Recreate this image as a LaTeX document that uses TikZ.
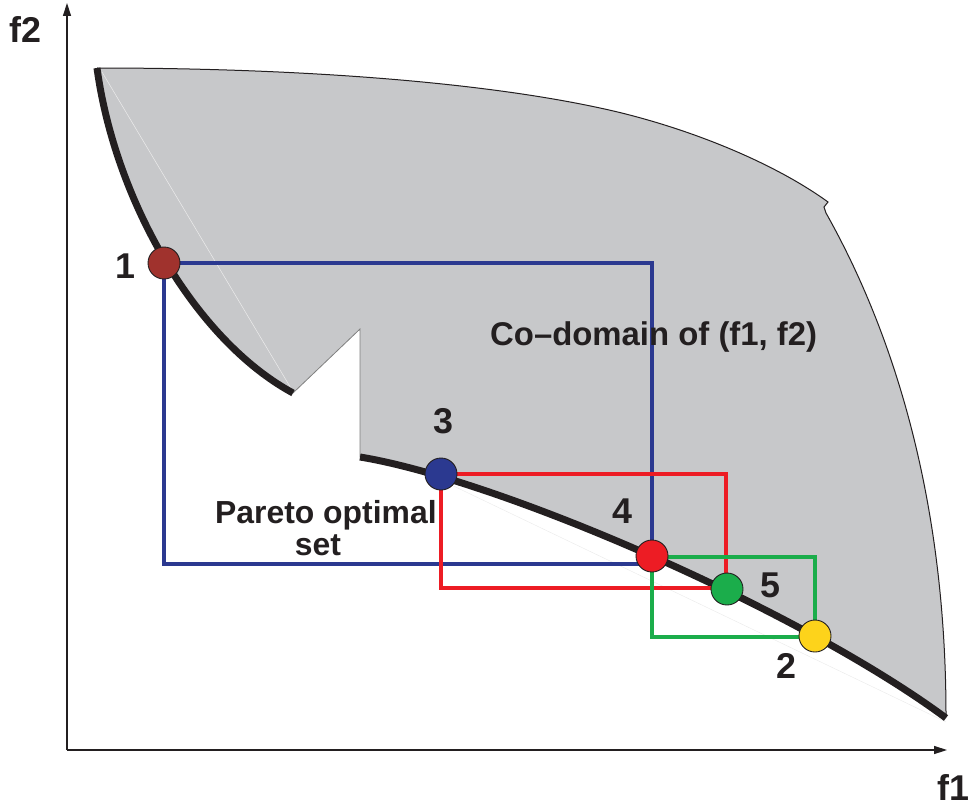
\documentclass[tikz,border=0pt]{standalone}
\usepackage{fontspec}
\setmainfont{Liberation Sans}
\usetikzlibrary{arrows.meta}
\definecolor{ink}{HTML}{231F20}
\definecolor{regiongray}{HTML}{C7C8CA}
\definecolor{cbrown}{HTML}{A0322D}
\definecolor{cblue}{HTML}{2B3990}
\definecolor{cred}{HTML}{ED1C24}
\definecolor{cgreen}{HTML}{1BAD4B}
\definecolor{cyellow}{HTML}{FDD31B}
\tikzset{
  axisline/.style={draw=ink, line width=1.4bp, -{Triangle[length=13bp,width=8bp]}},
  edgeline/.style={draw=ink, line width=1bp},
  notchline/.style={draw=gray, line width=0.8bp},
  paretoline/.style={draw=ink, line width=7bp},
  boxline/.style={line width=4bp},
  ptnode/.style={circle, draw=ink, line width=0.9bp, minimum size=32bp, inner sep=0pt},
  numlabel/.style={text=ink, font=\bfseries\fontsize{36}{40}\selectfont, inner sep=0pt, anchor=base},
  txtlabel/.style={text=ink, font=\bfseries\fontsize{32}{36}\selectfont, inner sep=0pt},
  faint/.style={draw=white!85!gray, line width=0.5bp}
}
\begin{document}
\begin{tikzpicture}[x=1bp,y=-1bp]
\useasboundingbox (0,0) rectangle (972,806);
% region
\fill[regiongray] (97,68)
  .. controls (300,68) and (480,82) .. (600,108)
  .. controls (680,125) and (770,160) .. (828,202)
  -- (824,207) -- (826,213)
  .. controls (903,350) and (946,520) .. (946,716)
  .. controls (800,610) and (500,480) .. (360,457)
  -- (360,329) -- (293,393)
  .. controls (195,340) and (115,200) .. (97,68)
  -- cycle;
% faint artefact lines
\draw[faint] (102,72) -- (292,390);
\draw[faint] (441,480) -- (946,722);
% outline of the region
\draw[edgeline] (97,68)
  .. controls (300,68) and (480,82) .. (600,108)
  .. controls (680,125) and (770,160) .. (828,202)
  -- (824,207) -- (826,213)
  .. controls (903,350) and (946,520) .. (946,716);
\draw[notchline] (293,393) -- (360,329) -- (360,457);
% Pareto curves
\draw[paretoline] (97,68) .. controls (115,200) and (195,340) .. (293,393);
\draw[paretoline] (360,457) .. controls (500,480) and (800,610) .. (946,718);
% axes
\coordinate (origin) at (67,750);
\coordinate (ytip) at (67,3);
\coordinate (xtip) at (947,750);
\draw[axisline] (origin) -- (ytip);
\draw[axisline] (origin) -- (xtip);
% points (named)
\coordinate (c1) at (164,263);
\coordinate (c3) at (441,474);
\coordinate (c4) at (652,556);
\coordinate (c5) at (727,589);
\coordinate (c2) at (815,636);
% boxes
\draw[boxline, cblue] (c1) rectangle (652,564);
\draw[boxline, cred] (c3) rectangle (726,588);
\draw[boxline, cgreen] (652,557) rectangle (815,637);
\node[ptnode, fill=cbrown] (p1) at (c1) {};
\node[ptnode, fill=cblue] (p3) at (c3) {};
\node[ptnode, fill=cred] (p4) at (c4) {};
\node[ptnode, fill=cgreen] (p5) at (c5) {};
\node[ptnode, fill=cyellow] (p2) at (c2) {};
% labels
\node[numlabel] (l1) at (125,278) {1};
\node[numlabel] (l3) at (443,433) {3};
\node[numlabel] (l4) at (622,523) {4};
\node[numlabel] (l5) at (770,597) {5};
\node[numlabel] (l2) at (786,678) {2};
\node[numlabel, anchor=base west] (f2) at (9,43) {f2};
\node[numlabel, anchor=base west] (f1) at (937,800) {f1};
\node[txtlabel, anchor=base west] (pareto) at (215,523) {Pareto optimal};
\node[txtlabel, anchor=base] (set) at (318,555) {set};
\node[txtlabel, anchor=base west, font=\bfseries\fontsize{33}{36}\selectfont] (codom) at (490,345) {Co–domain of (f1, f2)};
\end{tikzpicture}
\end{document}
